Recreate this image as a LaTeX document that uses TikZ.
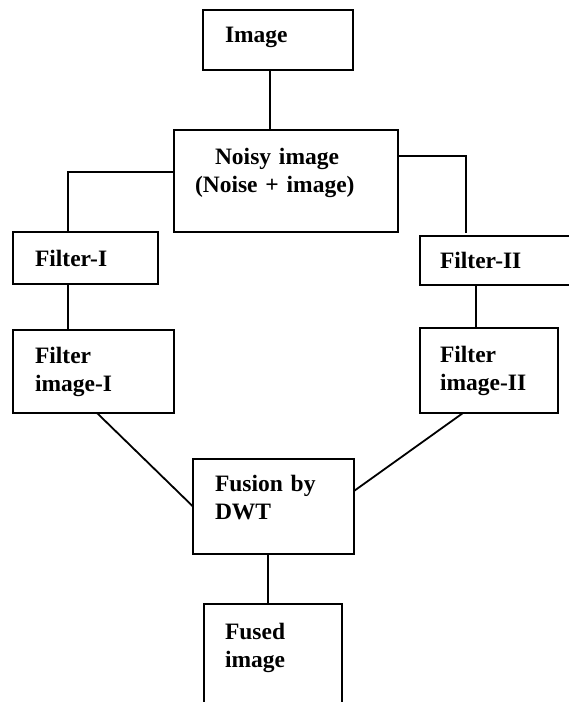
\documentclass[tikz,border=0pt]{standalone}
\usepackage{fontspec}
\setmainfont{Liberation Serif}

\begin{document}
\begin{tikzpicture}[
    x=1pt, y=1pt,
 mybox/.style = {
        draw, rectangle, align=left, line width=1.8pt,
        font=\bfseries\fontsize{23.5}{28}\selectfont,
        inner xsep=22pt, inner ysep=0pt, outer sep=0pt},
     link/.style = {line width=1.8pt}
                    ]
\path[use as bounding box, clip] (0,0) rectangle (569,702);
% the nodes at the top
\node (img)   [mybox, text width=106pt, minimum height=60pt,
               text depth=10pt]                     at (278,662) {Image};
\node (noisy) [mybox, inner xsep=21pt, text width=182pt, minimum height=102pt,
               text depth=50pt]                     at (286,521)
                                        {\hspace*{20pt}Noisy image\\
                                        (Noise + image)};
% the two branches
\node (f1)    [mybox, text width=101pt, minimum height=52pt]  at (85.5,444)  {Filter-I};
\node (f2)    [mybox, inner xsep=20pt, text width=110pt,
               minimum height=49pt]                 at (495,441.5) {Filter-II};
\node (fi1)   [mybox, text width=117pt, minimum height=83pt]  at (93.5,330.5)
                                        {Filter\\
                                        image-I};
\node (fi2)   [mybox, inner xsep=20pt, text width=98pt,
               minimum height=85pt]                 at (489,331.5)
                                        {Filter\\
                                        image-II};
% the nodes at the bottom
\node (fusion) [mybox, text width=117pt, minimum height=95pt,
                text depth=47pt]                    at (273.5,195.5)
                                        {Fusion by\\
                                        DWT};
\node (fused)  [mybox, inner xsep=21pt, text width=96pt, minimum height=128pt,
                text depth=74pt]                    at (273,34)
                                        {Fused\\
                                        image};
% lines
\draw[link] ([xshift=-8pt] img.south) coordinate (a)
                                       -- (a |- noisy.north);
\draw[link] ([yshift=9pt] noisy.west) -| ([xshift=-17.5pt] f1.north);
\draw[link, shorten >=3pt] ([yshift=25pt] noisy.east) -| ([xshift=-29pt] f2.north);
\draw[link] ([xshift=-17.5pt] f1.south) coordinate (b)
                                       -- (b |- fi1.north);
\draw[link] ([xshift=-19pt] f2.south) coordinate (c)
                                       -- (c |- fi2.north);
\draw[link] ([xshift=3.5pt] fi1.south) -- (fusion.west);
\draw[link] ([xshift=-26pt] fi2.south) -- ([yshift=15.5pt] fusion.east);
\draw[link] ([xshift=-5.5pt] fusion.south) coordinate (d)
                                       -- (d |- fused.north);
\end{tikzpicture}
\end{document}
